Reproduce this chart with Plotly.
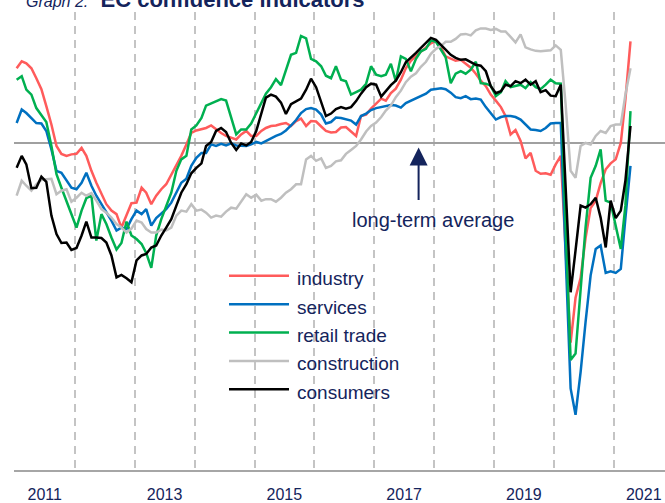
import pandas as pd
import plotly.graph_objects as go

# ---------------- data (monthly, Jan 2011 - Apr 2021; 0 = long-term average) ----------------
industry = [
    15.1, 16.5, 16.1, 15.1, 13.1, 10.9, 7.5, 3.8, -0.5, -2.1,
    -2.5, -2.2, -2.1, -0.9, -2.5, -5.5, -7.9, -10.0, -12.2, -13.5,
    -14.2, -16.9, -14.2, -12.0, -11.9, -8.9, -9.9, -12.2, -10.5, -9.2,
    -8.2, -6.2, -4.5, -2.5, -0.2, 2.1, 2.6, 2.8, 3.1, 3.6,
    2.8, 2.1, 1.5, 1.1, 0.8, 1.8, 2.5, 1.5, 1.5, 2.5,
    3.1, 3.5, 3.6, 3.9, 4.1, 3.5, 4.5, 5.0, 3.5, 4.5,
    4.4, 3.4, 2.5, 2.2, 2.3, 3.2, 3.3, 2.4, 1.5, 5.5,
    5.8, 7.0, 8.1, 9.0, 8.6, 10.1, 11.0, 12.8, 15.1, 16.6,
    17.6, 18.4, 19.3, 20.1, 20.6, 19.3, 17.5, 17.1, 16.6, 16.8,
    16.0, 15.2, 14.0, 12.6, 11.5, 9.8, 8.6, 7.3, 5.5, 1.8,
    2.7, 0.5, -3.0, -1.9, -5.5, -6.1, -6.0, -6.3, -4.2, -2.5,
    -21.0, -40.0, -31.0, -27.0, -19.0, -13.0, -11.5, -8.0, -5.2, -4.0,
    -3.2, 0.1, 8.8, 20.5,
]
services = [
    4.1, 6.8, 6.1, 5.1, 4.1, 4.0, 2.5, -1.2, -5.5, -5.9,
    -7.5, -8.9, -9.2, -7.9, -5.9, -8.5, -10.5, -12.2, -13.9, -15.5,
    -17.5, -16.9, -17.2, -15.2, -13.5, -14.2, -13.2, -16.5, -15.0, -14.0,
    -13.2, -11.9, -9.9, -7.9, -7.1, -4.5, -2.9, -1.9, -1.9, -0.2,
    -0.5, -0.1, -0.4, 0.0, -0.4, -0.5, -0.5, -0.2, 0.3, 0.0,
    0.5, 0.9, 1.5, 1.9, 2.6, 3.6, 4.7, 6.1, 6.9, 7.1,
    6.8, 5.8, 4.0, 4.3, 5.2, 5.1, 4.9, 4.6, 3.8, 5.5,
    6.0, 6.7, 7.1, 7.3, 7.4, 7.7, 7.6, 7.2, 8.1, 8.6,
    9.1, 9.5, 10.0, 10.8, 10.9, 11.1, 10.9, 10.2, 9.3, 9.1,
    9.5, 8.9, 9.0, 8.8, 7.3, 6.1, 4.8, 5.3, 5.5, 5.5,
    5.3, 4.8, 3.8, 2.8, 2.7, 2.5, 3.1, 4.0, 4.1, 4.1,
    -22.0, -49.2, -54.5, -45.9, -35.9, -26.5, -21.2, -20.5, -26.0, -25.7,
    -26.0, -25.2, -15.0, -4.5,
]
retail_trade = [
    12.8, 13.5, 10.8, 9.8, 7.1, 5.6, 4.3, -0.5, -6.2, -8.9,
    -11.5, -14.2, -16.9, -13.5, -11.0, -10.5, -19.5, -14.2, -16.2, -18.9,
    -21.3, -20.0, -15.7, -18.5, -19.2, -20.2, -22.0, -25.0, -18.5, -15.2,
    -12.5, -9.9, -5.5, -3.2, -2.5, 2.8, 3.6, 5.1, 7.6, 8.0,
    8.5, 8.9, 8.6, 5.0, 1.8, 2.8, 2.8, 4.0, 6.0, 8.2,
    10.0, 11.3, 12.9, 11.7, 14.8, 17.8, 18.2, 21.6, 21.1, 17.0,
    16.5, 15.5, 13.6, 13.1, 15.5, 12.8, 12.5, 9.8, 10.3, 10.8,
    12.0, 15.5, 13.8, 13.5, 13.8, 16.0, 12.5, 17.5, 17.0, 14.5,
    17.0, 18.5, 19.0, 20.7, 20.4, 18.9, 17.3, 12.1, 14.0, 14.5,
    14.0, 14.8, 16.4, 12.1, 12.0, 11.6, 9.5, 10.3, 12.5, 11.3,
    11.5, 11.8, 11.1, 12.3, 11.3, 10.9, 11.8, 12.8, 12.1, 12.0,
    -16.0, -43.5, -42.2, -29.9, -16.9, -6.9, -4.5, -1.2, -11.5, -11.9,
    -16.5, -21.2, -12.5, 6.5,
]
construction = [
    -10.5, -7.5, -8.5, -9.5, -8.2, -7.3, -7.2, -7.1, -10.2, -9.5,
    -9.2, -11.7, -10.9, -9.9, -10.5, -10.0, -11.5, -13.2, -13.9, -14.9,
    -16.2, -16.9, -17.9, -17.1, -15.5, -15.9, -17.2, -17.9, -17.9, -17.3,
    -17.5, -16.9, -14.5, -13.5, -13.7, -12.2, -13.5, -13.3, -13.9, -14.9,
    -14.5, -14.7, -13.7, -12.9, -13.1, -11.7, -10.2, -10.9, -10.3, -11.5,
    -11.2, -11.2, -11.7, -10.9, -9.9, -9.2, -8.2, -8.2, -3.2, -2.5,
    -3.5, -3.0, -4.9, -4.5, -3.6, -3.4, -2.1, -1.3, -0.5, 0.8,
    2.4, 3.5, 4.2, 5.3, 6.6, 7.6, 9.3, 10.6, 12.3, 13.4,
    14.1, 15.4, 16.4, 18.0, 19.0, 19.6, 20.4, 20.4, 21.0, 21.9,
    22.0, 21.7, 22.7, 23.1, 23.1, 22.8, 23.0, 22.5, 22.5, 21.4,
    20.3, 21.9, 19.3, 18.9, 18.6, 18.5, 18.6, 18.7, 19.7, 18.8,
    8.0, -5.5, -6.9, -0.5, 0.1, -0.2, 1.5, 2.5, 2.1, 3.5,
    3.8, 3.8, 9.8, 15.1,
]
consumers = [
    -4.9, -2.5, -4.2, -9.0, -8.9, -6.7, -7.7, -14.5, -18.2, -20.0,
    -19.9, -21.4, -21.0, -18.5, -15.7, -18.9, -18.9, -19.0, -19.9, -22.5,
    -26.9, -26.4, -27.1, -27.9, -23.5, -22.5, -22.2, -20.9, -20.5, -18.5,
    -16.9, -15.2, -12.5, -9.9, -8.2, -6.0, -4.9, -4.0, -0.5, 0.3,
    2.5, 3.1, 2.3, 0.1, -1.3, 0.0, -0.4, 0.3, 2.5, 5.8,
    9.2, 9.8, 9.4, 8.2, 5.9, 7.9, 8.5, 9.0, 10.8, 13.0,
    11.3, 8.5, 5.5, 6.0, 6.9, 7.3, 7.0, 7.3, 8.5, 10.0,
    11.3, 12.0, 11.8, 9.4, 10.5, 11.7, 12.6, 14.3, 16.3, 17.2,
    18.2, 19.2, 20.2, 21.2, 20.8, 19.7, 18.7, 17.8, 17.2, 16.8,
    16.9, 16.3, 15.8, 15.6, 14.5, 11.5, 10.1, 10.5, 11.8, 11.5,
    12.5, 12.1, 12.8, 11.8, 12.5, 10.3, 10.7, 9.6, 9.5, 11.8,
    -9.0, -29.9, -21.5, -12.5, -12.9, -12.2, -10.9, -14.9, -20.9, -11.5,
    -15.0, -13.5, -7.5, 3.5,
]
series_names = ["industry", "services", "retail trade", "construction", "consumers"]
series_values = [industry, services, retail_trade, construction, consumers]
label_years = [2011, 2013, 2015, 2017, 2019, 2021]
first_month = "2011-01-01"
annotation_text = "long-term average"

# ---------------- styling ----------------
colors = ["#ff5b5b", "#0070c0", "#00b050", "#bfbfbf", "#000000"]
navy = "#14245c"
font_family = "Liberation Sans, Arial, sans-serif"

W, H = 665, 503
ML, MR, MT, MB = 14, 0, 12, 31
PW, PH = W - ML - MR, H - MT - MB


def px_x(x):
    return (x - ML) / PW


def px_y(y):
    return (H - MB - y) / PH


n = len(industry)
dates = pd.date_range(first_month, periods=n, freq="MS") + pd.Timedelta(days=10)

fig = go.Figure()
for name, vals, col in zip(series_names, series_values, colors):
    fig.add_trace(go.Scatter(x=dates, y=vals, mode="lines", name=name,
                             line=dict(color=col, width=2.5), showlegend=False,
                             hoverinfo="skip"))

days_per_px = 365.25 / 59.9
x_start = pd.Timestamp(first_month) - pd.Timedelta(days=days_per_px * 1)
x_end = x_start + pd.Timedelta(days=days_per_px * PW)

fig.update_xaxes(
    type="date", range=[x_start, x_end],
    tickvals=[pd.Timestamp(f"{y}-07-01") for y in label_years],
    ticktext=[str(y) for y in label_years],
    tickfont=dict(family=font_family, size=16, color=navy),
    ticks="", showgrid=False, zeroline=False,
    showline=True, linecolor="#a6a6a6", linewidth=2,
    ticklabelstandoff=9,
    minor=dict(tick0=first_month, dtick="M12", showgrid=True,
               gridcolor="#c4c4c4", gridwidth=2, griddash="8px,6px", ticks=""),
)
fig.update_yaxes(range=[-65.6, 26.4], showgrid=False, showticklabels=False,
                 ticks="", zeroline=True, zerolinecolor="#a0a0a0", zerolinewidth=2,
                 showline=False)

# manual legend
row0, row_step = 277, 28.5
for i, (name, col) in enumerate(zip(series_names, colors)):
    ry = row0 + i * row_step
    fig.add_shape(type="line", xref="paper", yref="paper",
                  x0=px_x(229), x1=px_x(289), y0=px_y(ry), y1=px_y(ry),
                  line=dict(color=col, width=2.5))
    fig.add_annotation(xref="paper", yref="paper", x=px_x(295), y=px_y(ry + 3),
                       xanchor="left", yanchor="middle", showarrow=False,
                       text=name, font=dict(family=font_family, size=19, color=navy))

# arrow + text for long-term average
fig.add_annotation(xref="paper", yref="paper", x=px_x(418.6), y=px_y(148),
                   ax=0, ay=54, text="", showarrow=True, arrowhead=2,
                   arrowsize=1.8, arrowwidth=2, arrowcolor=navy, standoff=0)
fig.add_annotation(xref="paper", yref="paper", x=px_x(433), y=px_y(221),
                   xanchor="center", yanchor="middle", showarrow=False,
                   text=annotation_text, font=dict(family=font_family, size=20, color=navy))

# title (partly cut off at the top, as in the source)
fig.add_annotation(xref="paper", yref="paper", x=px_x(24), y=px_y(14),
                   xanchor="left", yanchor="bottom", showarrow=False,
                   text='<span style="font-size:16px"><i>Graph 2:</i></span>  <b>EC confidence indicators</b>',
                   font=dict(family=font_family, size=22, color=navy))

fig.update_layout(width=W, height=H, margin=dict(l=ML, r=MR, t=MT, b=MB),
                  paper_bgcolor="white", plot_bgcolor="white", showlegend=False,
                  hovermode=False)

fig.write_html("out.html", config={"displayModeBar": False, "staticPlot": True},
               post_script="document.body.style.margin='0';document.body.style.overflow='hidden';")
